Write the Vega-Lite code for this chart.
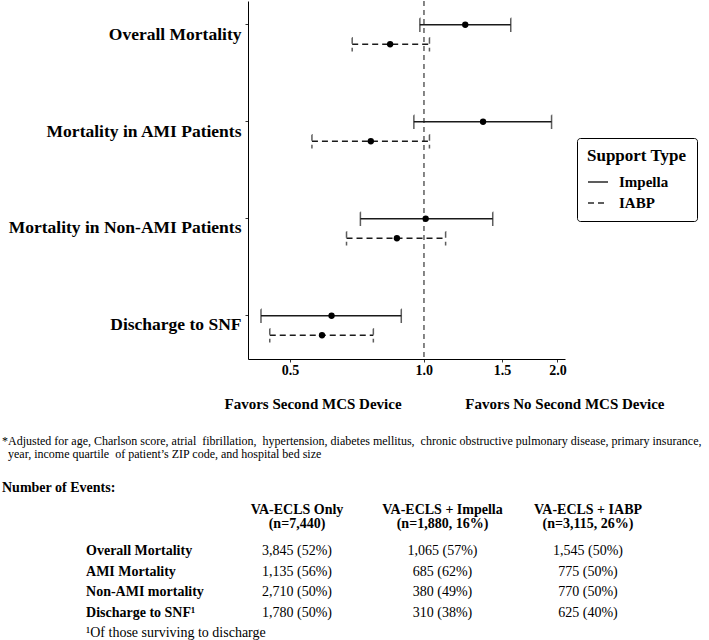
{
  "$schema": "https://vega.github.io/schema/vega-lite/v6.json",
  "padding": 0,
  "background": "white",
  "config": {
    "font": "Liberation Serif",
    "view": {"stroke": null},
    "axis": {"grid": false, "labelColor": "black", "titleColor": "black", "domainColor": "black", "tickColor": "#333333", "labelFont": "Liberation Serif", "titleFont": "Liberation Serif"}
  },
  "datasets": {
    "forest": [
      {"outcome": "Overall Mortality", "type": "Impella", "est": 1.24, "lo": 0.98, "hi": 1.57},
      {"outcome": "Overall Mortality", "type": "IABP", "est": 0.84, "lo": 0.69, "hi": 1.03},
      {"outcome": "Mortality in AMI Patients", "type": "Impella", "est": 1.36, "lo": 0.95, "hi": 1.94},
      {"outcome": "Mortality in AMI Patients", "type": "IABP", "est": 0.76, "lo": 0.56, "hi": 1.03},
      {"outcome": "Mortality in Non-AMI Patients", "type": "Impella", "est": 1.01, "lo": 0.72, "hi": 1.43},
      {"outcome": "Mortality in Non-AMI Patients", "type": "IABP", "est": 0.87, "lo": 0.67, "hi": 1.12},
      {"outcome": "Discharge to SNF", "type": "Impella", "est": 0.62, "lo": 0.43, "hi": 0.89},
      {"outcome": "Discharge to SNF", "type": "IABP", "est": 0.59, "lo": 0.45, "hi": 0.77}
    ],
    "rowlabels": [
      {"row": "Overall Mortality", "col": "lab", "text": "Overall Mortality"},
      {"row": "AMI Mortality", "col": "lab", "text": "AMI Mortality"},
      {"row": "Non-AMI mortality", "col": "lab", "text": "Non-AMI mortality"},
      {"row": "Discharge to SNF¹", "col": "lab", "text": "Discharge to SNF¹"}
    ],
    "footrow": [
      {"row": "foot", "col": "lab", "text": "¹Of those surviving to discharge"}
    ],
    "headers": [
      {"row": "h", "col": "c1", "text": "VA-ECLS Only\n(n=7,440)"},
      {"row": "h", "col": "c2", "text": "VA-ECLS + Impella\n(n=1,880, 16%)"},
      {"row": "h", "col": "c3", "text": "VA-ECLS + IABP\n(n=3,115, 26%)"}
    ],
    "cells": [
      {"row": "Overall Mortality", "col": "c1", "text": "3,845 (52%)"},
      {"row": "Overall Mortality", "col": "c2", "text": "1,065 (57%)"},
      {"row": "Overall Mortality", "col": "c3", "text": "1,545 (50%)"},
      {"row": "AMI Mortality", "col": "c1", "text": "1,135 (56%)"},
      {"row": "AMI Mortality", "col": "c2", "text": "685 (62%)"},
      {"row": "AMI Mortality", "col": "c3", "text": "775 (50%)"},
      {"row": "Non-AMI mortality", "col": "c1", "text": "2,710 (50%)"},
      {"row": "Non-AMI mortality", "col": "c2", "text": "380 (49%)"},
      {"row": "Non-AMI mortality", "col": "c3", "text": "770 (50%)"},
      {"row": "Discharge to SNF¹", "col": "c1", "text": "1,780 (50%)"},
      {"row": "Discharge to SNF¹", "col": "c2", "text": "310 (38%)"},
      {"row": "Discharge to SNF¹", "col": "c3", "text": "625 (40%)"}
    ]
  },
  "spacing": 24,
  "vconcat": [
    {
      "width": 317,
      "height": 358,
      "data": {"name": "forest"},
      "layer": [
        {
          "mark": {"type": "rule", "color": "#808080", "strokeDash": [5, 4], "strokeWidth": 1},
          "encoding": {
            "x": {"datum": 1, "type": "quantitative"}
          }
        },
        {
          "mark": {"type": "rule", "color": "#1a1a1a", "strokeWidth": 1.5},
          "encoding": {
            "x": {
              "field": "lo", "type": "quantitative",
              "scale": {"type": "log", "domain": [0.402, 2.08], "nice": false},
              "axis": {
                "values": [0.5, 1, 1.5, 2], "format": ".1f",
                "labelFontSize": 14, "labelFontWeight": "bold", "labelPadding": 1, "tickSize": 3,
                "title": "Favors Second MCS Device\u00a0\u00a0\u00a0\u00a0\u00a0\u00a0\u00a0\u00a0\u00a0\u00a0\u00a0\u00a0\u00a0\u00a0\u00a0\u00a0\u00a0Favors No Second MCS Device",
                "titleFontSize": 15, "titleFontWeight": "bold", "titleX": 196, "titlePadding": 19
              }
            },
            "x2": {"field": "hi"},
            "y": {
              "field": "outcome", "type": "nominal",
              "sort": ["Overall Mortality", "Mortality in AMI Patients", "Mortality in Non-AMI Patients", "Discharge to SNF"],
              "scale": {"paddingInner": 0.309, "paddingOuter": 0},
              "axis": {"title": null, "labelFontSize": 17.5, "labelFontWeight": "bold", "labelPadding": 4, "tickSize": 3, "bandPosition": 0.3545, "minExtent": 248, "maxExtent": 248, "labelLimit": 300}
            },
            "yOffset": {"field": "type", "type": "nominal", "sort": ["Impella", "IABP"], "scale": {"paddingInner": 0, "paddingOuter": 0.718}},
            "strokeDash": {
              "field": "type", "type": "nominal", "sort": ["Impella", "IABP"],
              "scale": {"domain": ["Impella", "IABP"], "range": [[1, 0], [6, 4]]},
              "legend": {
                "title": "Support Type", "orient": "none", "legendX": 329, "legendY": 137,
                "titleFont": "Liberation Serif", "titleFontSize": 17, "titleFontWeight": "bold", "titleColor": "black", "titlePadding": 6,
                "labelFont": "Liberation Serif", "labelFontSize": 15, "labelFontWeight": "bold", "labelColor": "black", "labelOffset": 10,
                "symbolType": "stroke", "symbolSize": 400, "symbolStrokeWidth": 2, "symbolStrokeColor": "black",
                "strokeColor": "black", "cornerRadius": 3, "padding": 10, "rowPadding": 2
              }
            }
          }
        },
        {
          "transform": [{"fold": ["lo", "hi"], "as": ["end", "xval"]}],
          "mark": {"type": "tick", "filled": false, "thickness": 0.01, "size": 13, "strokeWidth": 1.5, "color": "#1a1a1a"},
          "encoding": {
            "x": {"field": "xval", "type": "quantitative"},
            "y": {"field": "outcome", "type": "nominal", "sort": ["Overall Mortality", "Mortality in AMI Patients", "Mortality in Non-AMI Patients", "Discharge to SNF"]},
            "yOffset": {"field": "type", "type": "nominal", "sort": ["Impella", "IABP"]},
            "strokeDash": {"field": "type", "type": "nominal", "sort": ["Impella", "IABP"]}
          }
        },
        {
          "mark": {"type": "point", "filled": true, "size": 40, "color": "black", "opacity": 1},
          "encoding": {
            "x": {"field": "est", "type": "quantitative"},
            "y": {"field": "outcome", "type": "nominal", "sort": ["Overall Mortality", "Mortality in AMI Patients", "Mortality in Non-AMI Patients", "Discharge to SNF"]},
            "yOffset": {"field": "type", "type": "nominal", "sort": ["Impella", "IABP"]}
          }
        }
      ]
    },
    {
      "width": 420,
      "height": 123,
      "title": {
        "text": [
          "*Adjusted for age, Charlson score, atrial\u00a0 fibrillation,\u00a0 hypertension, diabetes mellitus,\u00a0 chronic obstructive pulmonary disease, primary insurance,",
          "\u200b\u00a0\u00a0year, income quartile\u00a0 of patient’s ZIP code, and hospital bed size"
        ],
        "subtitle": "Number of Events:",
        "anchor": "start", "frame": "group", "dx": -246,
        "font": "Liberation Serif", "fontSize": 12, "fontWeight": "normal", "lineHeight": 13, "color": "black",
        "subtitleFont": "Liberation Serif", "subtitleFontSize": 14, "subtitleFontWeight": "bold", "subtitleColor": "black",
        "subtitlePadding": 20, "offset": 7
      },
      "layer": [
        {
          "data": {"name": "rowlabels"},
          "mark": {"type": "text", "align": "left", "baseline": "middle", "fontSize": 14, "fontWeight": "bold", "color": "black"},
          "encoding": {
            "x": {"field": "col", "type": "nominal", "bandPosition": 0.05,
              "scale": {"type": "band", "domain": ["lab", "c1", "c2", "c3"], "paddingInner": 0, "paddingOuter": 0, "range": [-169.25, 412.75]},
              "axis": null},
            "y": {"field": "row", "type": "nominal",
              "scale": {"type": "point", "padding": 0, "domain": ["h", "blank", "Overall Mortality", "AMI Mortality", "Non-AMI mortality", "Discharge to SNF¹", "foot"]},
              "axis": null},
            "text": {"field": "text"}
          }
        },
        {
          "data": {"name": "footrow"},
          "mark": {"type": "text", "align": "left", "baseline": "middle", "fontSize": 14, "fontWeight": "normal", "color": "black"},
          "encoding": {
            "x": {"field": "col", "type": "nominal", "bandPosition": 0.05},
            "y": {"field": "row", "type": "nominal"},
            "text": {"field": "text"}
          }
        },
        {
          "data": {"name": "cells"},
          "mark": {"type": "text", "align": "center", "baseline": "middle", "fontSize": 14, "fontWeight": "normal", "color": "black"},
          "encoding": {
            "x": {"field": "col", "type": "nominal"},
            "y": {"field": "row", "type": "nominal"},
            "text": {"field": "text"}
          }
        },
        {
          "data": {"name": "headers"},
          "mark": {"type": "text", "align": "center", "baseline": "middle", "lineBreak": "\n", "lineHeight": 14, "fontSize": 14, "fontWeight": "bold", "color": "black"},
          "encoding": {
            "x": {"field": "col", "type": "nominal"},
            "y": {"field": "row", "type": "nominal"},
            "text": {"field": "text"}
          }
        }
      ]
    }
  ]
}
